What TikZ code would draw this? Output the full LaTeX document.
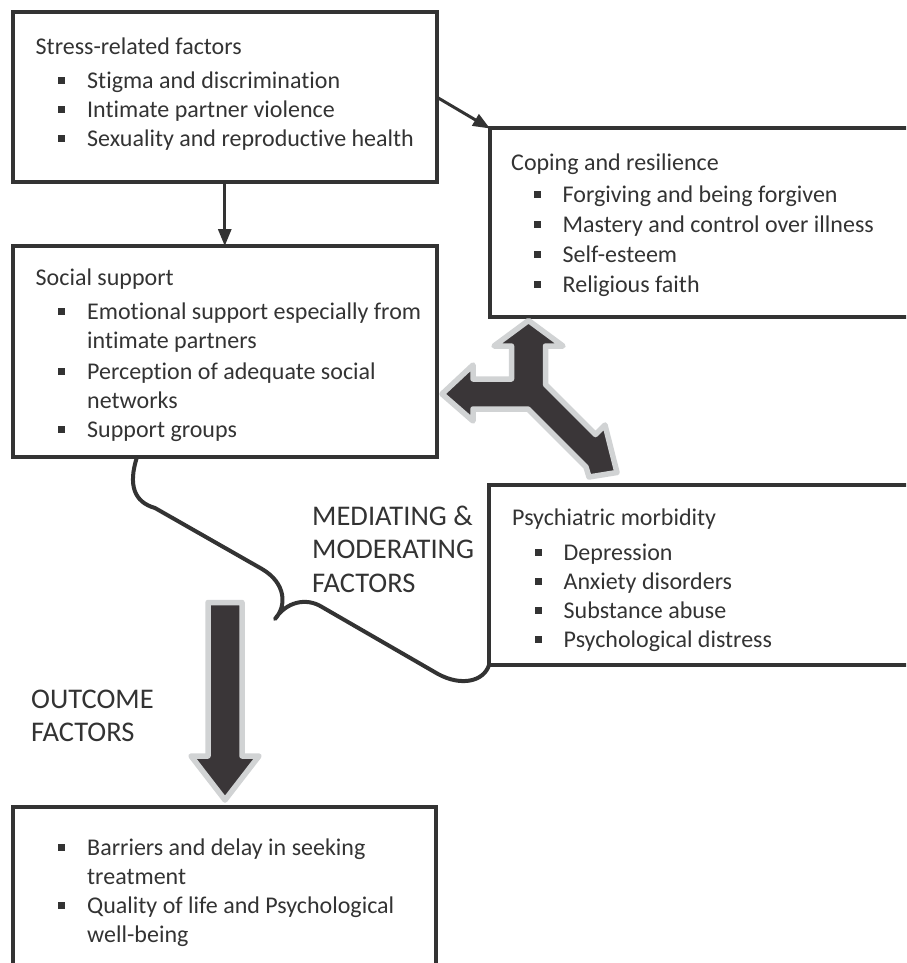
\documentclass[tikz,border=0pt]{standalone}
\usepackage{fontspec}
\setmainfont{Carlito}[Ligatures=NoCommon]
\usetikzlibrary{arrows.meta}
\definecolor{ink}{HTML}{333333}
\definecolor{arrowfill}{HTML}{3A3638}
\definecolor{arrowrim}{HTML}{D1D3D4}
\newcommand{\sq}{\rule[4.3pt]{7pt}{7pt}}
\newcommand{\itm}[1]{\hspace*{22.5pt}\makebox[29pt][l]{\sq}#1}
\newcommand{\cont}[1]{\hspace*{51.5pt}#1}
\tikzset{
	box/.style={draw=ink, line width=4pt, rectangle, outer sep=0pt, inner sep=0pt, anchor=north west},
	txt/.style={anchor=north west, align=left, inner sep=0pt, text=ink, font=\fontsize{24}{29}\selectfont},
	bigtxt/.style={anchor=north west, align=left, inner sep=0pt, text=ink, font=\fontsize{28.5}{33.5}\selectfont},
	link/.style={draw=ink, line width=3pt, -{Triangle[length=17pt,width=13pt]}},
	blockarrow/.style={fill=arrowfill, draw=arrowrim, line width=5.5pt, line join=round},
	brace/.style={draw=ink, line width=4pt, line cap=round, line join=round}
}
\begin{document}
\begin{tikzpicture}[x=1pt, y=-1pt]
		\useasboundingbox (0,0) rectangle (906,963);
		\clip (0,0) rectangle (906,963);

		% boxes
		\node[box, minimum width=424.5, minimum height=169.5] (stress) at (12.5,12.5) {};
		\node[box, minimum width=450, minimum height=188] (coping) at (490,128.5) {};
		\node[box, minimum width=424.5, minimum height=211] (social) at (12.5,246) {};
		\node[box, minimum width=450, minimum height=180] (psych) at (489,485) {};
		\node[box, minimum width=423.5, minimum height=200] (outcome) at (12.5,807) {};

		% box texts
		\node[txt] (stresstxt) at ([shift={(23,21.5)}]stress.north west) {\rule{0pt}{20pt}Stress-related factors\\[5pt]
			\itm{Stigma and discrimination}\\
			\itm{Intimate partner violence}\\
			\itm{Sexuality and reproductive health}};
		\node[txt] (copingtxt) at ([shift={(21,21.5)}]coping.north west) {\rule{0pt}{20pt}Coping and resilience\\[3pt]
			\itm{Forgiving and being forgiven}\\[1pt]
			\itm{Mastery and control over illness}\\[1pt]
			\itm{Self-esteem}\\[1pt]
			\itm{Religious faith}};
		\node[txt] (socialtxt) at ([shift={(23,19)}]social.north west) {\rule{0pt}{20pt}Social support\\[5pt]
			\itm{Emotional support especially from}\\
			\cont{intimate partners}\\[2pt]
			\itm{Perception of adequate social}\\
			\cont{networks}\\
			\itm{Support groups}};
		\node[txt] (psychtxt) at ([shift={(23,20)}]psych.north west) {\rule{0pt}{20pt}Psychiatric morbidity\\[6pt]
			\itm{Depression}\\
			\itm{Anxiety disorders}\\
			\itm{Substance abuse}\\
			\itm{Psychological distress}};
		\node[txt] (outcometxt) at ([shift={(23,28)}]outcome.north west) {\rule{0pt}{20pt}\itm{Barriers and delay in seeking}\\
			\cont{treatment}\\
			\itm{Quality of life and Psychological}\\
			\cont{well-being}};

		% side labels
		\node[bigtxt] (mediating) at (312,502) {\rule{0pt}{23pt}MEDIATING \&\\MODERATING\\FACTORS};
		\node[bigtxt] (outlabel) at (31,685) {\rule{0pt}{23pt}OUTCOME\\FACTORS};

		% thin links
		\draw[link] (stress.south) -- (social.north);
		\draw[link] (stress.east) -- (coping.north west);

		% brace between social support and psychiatric morbidity
		\draw[brace] ([shift={(124.5,0)}]social.south west) .. controls (128,485) and (134,502) .. (155,508)
			-- (262,569) .. controls (286,583) and (287,606) .. (275,619)
			.. controls (286,602) and (306,597) .. (322,607)
			-- (438,674) .. controls (462,687) and (484,681) .. (psych.south west);

		% three-way block arrow
		\draw[blockarrow] (511.5,379) -- (511.5,346) -- (494,346) -- (528.5,320.5) -- (563,346)
			-- (545.5,346) -- (545.5,384.5) -- (595.5,434.5) -- (605,425) -- (617,472.5)
			-- (589,477) -- (586,467) -- (528,409) -- (473,409) -- (473,421) -- (442,394)
			-- (473,365) -- (473,379) -- cycle;

		% outcome block arrow
		\draw[blockarrow] (208,602.5) -- (242,602.5) -- (242,756) -- (259,756) -- (225,800)
			-- (191,756) -- (208,756) -- cycle;
	\end{tikzpicture}
\end{document}
